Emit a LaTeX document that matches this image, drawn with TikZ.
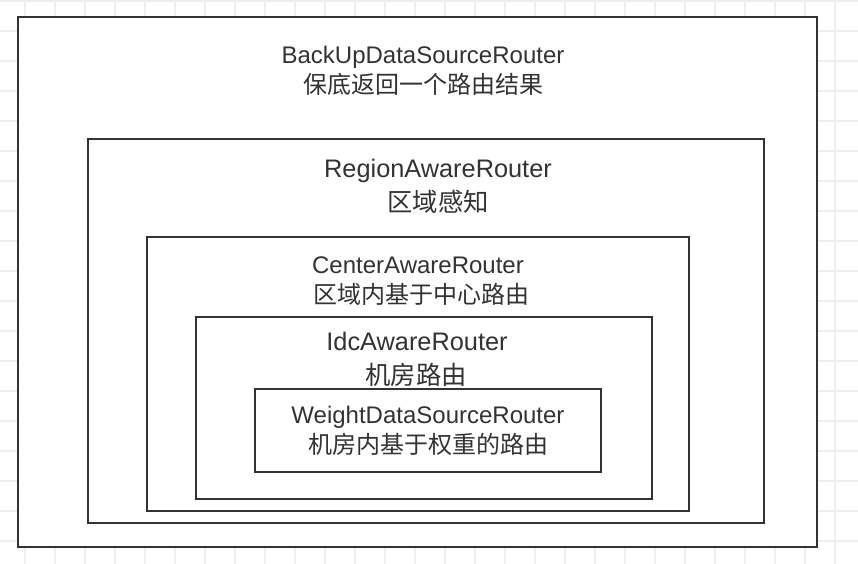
\documentclass[tikz,border=0pt]{standalone}
\usepackage{fontspec}
\setmainfont{Liberation Sans}
\newfontfamily\cjk{Noto Sans CJK SC}
\definecolor{ink}{HTML}{333333}
\definecolor{gridc}{HTML}{EEEEEE}
\begin{document}
\begin{tikzpicture}[x=0.75pt,y=-0.75pt,
  boxstyle/.style={draw=ink,line width=1.5pt,fill=white},
  latin/.style={anchor=base,inner sep=0pt,text=ink,font=\fontsize{18pt}{22pt}\selectfont},
  han/.style={anchor=base,inner sep=0pt,text=ink,font=\cjk\fontsize{18pt}{22pt}\selectfont},
  biglatin/.style={latin,font=\fontsize{19pt}{23pt}\selectfont},
  bighan/.style={han,font=\cjk\fontsize{19pt}{23pt}\selectfont}]
\useasboundingbox (0,0) rectangle (858,564);
\fill[white] (0,0) rectangle (858,564);
\foreach \gx in {-5,25,...,855} \draw[gridc,line width=0.9pt] (\gx,0) -- (\gx,564);
\foreach \gy in {1,31,...,563} \draw[gridc,line width=0.9pt] (0,\gy) -- (858,\gy);
% boxes
\draw[boxstyle] (17.7,16.7) rectangle (817.3,546.5);
\draw[boxstyle] (87.7,138.7) rectangle (764,522.7);
\draw[boxstyle] (146.7,236.7) rectangle (689,510.7);
\draw[boxstyle] (195.7,317) rectangle (652,498.7);
\draw[boxstyle] (255,389.3) rectangle (600.7,471.7);
% labels
\node[latin] (t1) at (423,63) {BackUpDataSourceRouter};
\node[han] (c1) at (423,93) {保底返回一个路由结果};
\node[biglatin] (t2) at (438,177) {RegionAwareRouter};
\node[bighan] (c2) at (438,211) {区域感知};
\node[latin] (t3) at (418,273) {CenterAwareRouter};
\node[han] (c3) at (421,303) {区域内基于中心路由};
\node[biglatin] (t4) at (417,350) {IdcAwareRouter};
\node[bighan] (c4) at (416,384) {机房路由};
\node[latin] (t5) at (428,423) {WeightDataSourceRouter};
\node[han] (c5) at (428,453) {机房内基于权重的路由};
\end{tikzpicture}
\end{document}
